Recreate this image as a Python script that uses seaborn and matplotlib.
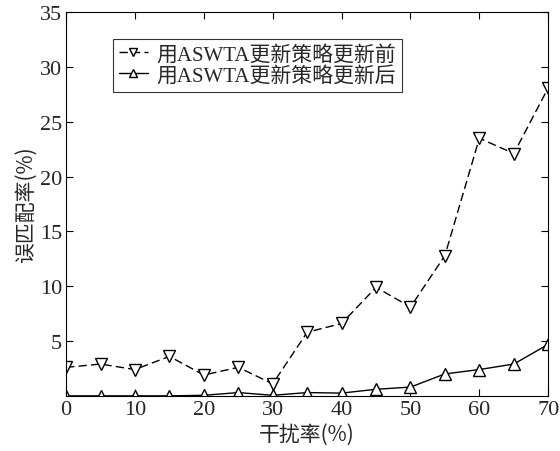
import numpy as np
import pandas as pd
import matplotlib
matplotlib.use('Agg')
import matplotlib.pyplot as plt
import seaborn as sns

# 干扰率 (%)
noise_rate = [0, 5, 10, 15, 20, 25, 30, 35, 40, 45, 50, 55, 60, 65, 70]
# 误匹配率 (%)
before_update = [2.6, 2.9, 2.4, 3.6, 1.9, 2.6, 1.1, 5.8, 6.6, 9.9, 8.1, 12.8, 23.5, 22.1, 28.1]
after_update = [0.0, 0.0, 0.0, 0.0, 0.05, 0.3, 0.05, 0.3, 0.25, 0.6, 0.8, 2.0, 2.4, 2.9, 4.7]
series_names = ['用ASWTA更新策略更新前', '用ASWTA更新策略更新后']
x_ticks = [0, 10, 20, 30, 40, 50, 60, 70]
y_ticks = [5, 10, 15, 20, 25, 30, 35]

df = pd.DataFrame({
    'x': noise_rate * 2,
    'y': before_update + after_update,
    'series': [series_names[0]] * len(noise_rate) + [series_names[1]] * len(noise_rate),
})

sns.set_style('ticks')
plt.rcParams['font.family'] = ['Liberation Serif', 'Noto Sans CJK SC']
plt.rcParams['axes.unicode_minus'] = False

fig, ax = plt.subplots(figsize=(5.6, 4.52), dpi=100)
fig.subplots_adjust(left=0.118, right=0.979, top=0.971, bottom=0.122)

sns.lineplot(data=df, x='x', y='y', hue='series', style='series',
             markers=['v', '^'], dashes=[(6, 3), ''],
             palette=['black', 'black'], markersize=8,
             markerfacecolor='white', markeredgecolor='black',
             markeredgewidth=1.0, linewidth=1.0, ax=ax)

ax.set_xlim(0, 70)
ax.set_ylim(0, 35)
ax.set_xticks(x_ticks)
ax.set_yticks(y_ticks)
ax.tick_params(direction='in', top=True, right=True, labelsize=16,
               length=5, width=0.8, color='black', pad=3)
for s in ax.spines.values():
    s.set_visible(True)
    s.set_color('black')
    s.set_linewidth(0.8)

ax.set_xlabel('干扰率(%)', fontsize=15,
              family=['Noto Sans CJK SC', 'Liberation Serif'], labelpad=3)
ax.set_ylabel('误匹配率(%)', fontsize=15,
              family=['Noto Sans CJK SC', 'Liberation Serif'], labelpad=2)

leg = ax.legend(loc='upper left', bbox_to_anchor=(0.075, 0.958),
                frameon=True, fancybox=False, edgecolor='black',
                handlelength=1.4, handletextpad=0.4, borderpad=0.3,
                labelspacing=0.05, title=None,
                prop={'family': ['Liberation Serif', 'Noto Sans CJK SC'], 'size': 15})
leg.get_frame().set_linewidth(0.8)
for h in leg.legend_handles:
    h.set_markersize(6)

fig.savefig('out.png', dpi=100)
